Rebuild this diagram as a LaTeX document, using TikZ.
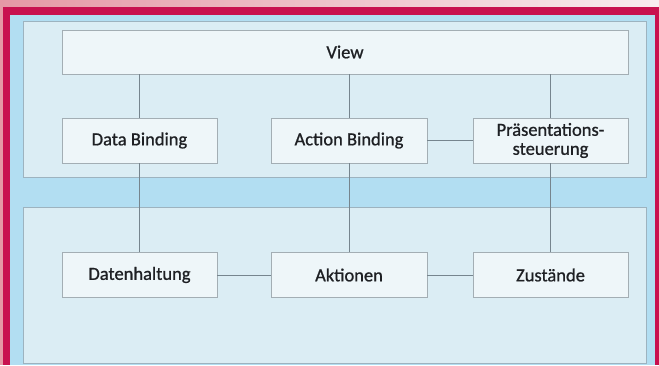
\documentclass[tikz,border=0pt]{standalone}
\usepackage{fontspec}
\setmainfont{Carlito}
\newfontfamily\lblfont[RawFeature={embolden=0.9}]{Carlito}
\definecolor{pinkL}{HTML}{E598A5}
\definecolor{pinkR}{HTML}{F8ECEF}
\definecolor{crimson}{HTML}{C8114F}
\definecolor{skyblue}{HTML}{B2DEF2}
\definecolor{panelfill}{HTML}{DBEDF4}
\definecolor{panelline}{HTML}{9DB3BF}
\definecolor{boxfill}{HTML}{EEF6F9}
\definecolor{boxline}{HTML}{A3AEB4}
\definecolor{wire}{HTML}{76858E}
\definecolor{ink}{HTML}{1E2024}
\begin{document}
\begin{tikzpicture}[x=1pt,y=-1pt,
  panel/.style={draw=panelline,fill=panelfill,line width=1pt},
  block/.style={draw=boxline,fill=boxfill,line width=0.9pt,rectangle,inner sep=0pt,
    minimum width=155pt,minimum height=45pt,align=center,text=ink,
    font=\lblfont\fontsize{18.5}{19}\selectfont},
  wire/.style={draw=wire,line width=1pt}]
\useasboundingbox (0,0) rectangle (659,365);
% header strip and frame
\shade[left color=pinkL,right color=pinkR] (0,0) rectangle (659,8);
\fill[pinkL] (0,0) rectangle (4,365);
\fill[crimson] (3,7) rectangle (659,365);
\fill[skyblue] (10,15) rectangle (655,365);
% the two panels
\path[panel] (23,21) rectangle (646,177);
\path[panel] (23,207) rectangle (646,363);
% blocks
\node[block,minimum width=566pt,minimum height=44pt] (view) at (345,52) {View};
\node[block] (db) at (139.5,140.5) {Data Binding};
\node[block,minimum width=156pt] (ab) at (349,140.5) {Action Binding};
\node[block] (ps) at (550.5,140.5) {Präsentations-\\steuerung};
\node[block] (dh) at (139.5,275) {Datenhaltung};
\node[block,minimum width=156pt] (ak) at (349,275) {Aktionen};
\node[block] (zu) at (550.5,275) {Zustände};
% connectors
\draw[wire] (view.south -| db.north) -- (db.north);
\draw[wire] (view.south -| ab.north) -- (ab.north);
\draw[wire] (view.south -| ps.north) -- (ps.north);
\draw[wire] (db.south) -- (dh.north);
\draw[wire] (ab.south) -- (ak.north);
\draw[wire] (ps.south) -- (zu.north);
\draw[wire] (ab.east) -- (ps.west);
\draw[wire] (dh.east) -- (ak.west);
\draw[wire] (ak.east) -- (zu.west);
\end{tikzpicture}
\end{document}
